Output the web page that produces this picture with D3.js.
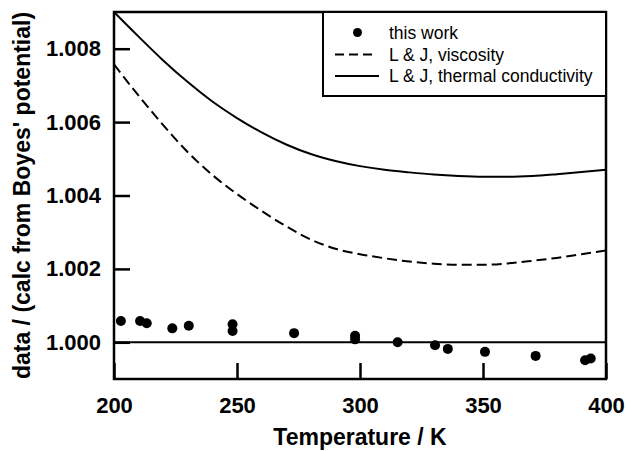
<!DOCTYPE html>
<html>
<head>
<meta charset="utf-8">
<script src="https://cdn.jsdelivr.net/npm/d3@7"></script>
<style>
  html, body { margin: 0; padding: 0; background: #fff; }
  svg { display: block; }
  text { font-family: "Liberation Sans", Arial, sans-serif; fill: #000; }
</style>
</head>
<body>
<div id="chart"></div>
<script>
// ---- data ----
const pointT = [202.8, 210.6, 213.3, 223.7, 230.4, 248.2, 248.2, 273.2, 298.0, 298.0, 315.3, 330.5, 335.7, 350.8, 371.4, 391.5, 393.8];
const pointRatio = [1.00058, 1.00058, 1.00052, 1.00038, 1.00045, 1.00049, 1.00031, 1.00025, 1.00018, 1.00008, 1.00000, 0.99992, 0.99982, 0.99974, 0.99963, 0.99951, 0.99956];

const curveT = [200, 210, 220, 230, 240, 250, 260, 270, 280, 290, 300, 310, 320, 330, 340, 350, 360, 370, 380, 390, 400];
const thermalCond = [1.00900, 1.00833, 1.00768, 1.00709, 1.00656, 1.00611, 1.00572, 1.00539, 1.00513, 1.00494, 1.00480, 1.00470, 1.00463, 1.00457, 1.00453, 1.00451, 1.00451, 1.00453, 1.00458, 1.00464, 1.00470];
const viscosity = [1.00757, 1.00672, 1.00592, 1.00518, 1.00456, 1.00404, 1.00358, 1.00316, 1.00280, 1.00255, 1.00240, 1.00229, 1.00220, 1.00214, 1.00211, 1.00211, 1.00215, 1.00222, 1.00230, 1.00240, 1.00250];

const xTicks = [200, 250, 300, 350, 400];
const yTicks = [1.000, 1.002, 1.004, 1.006, 1.008];
const legendLabels = ["this work", "L & J, viscosity", "L & J, thermal conductivity"];
const xTitle = "Temperature / K";
const yTitle = "data / (calc from Boyes' potential)";

// ---- layout ----
const W = 626, H = 451;
const m = { left: 114, right: 606, top: 12, bottom: 379 };

const svg = d3.select("#chart").append("svg").attr("width", W).attr("height", H);

const x = d3.scaleLinear().domain([200, 400]).range([m.left, m.right]);
const y = d3.scaleLinear().domain([0.999, 1.009]).range([m.bottom, m.top]);

// clip
svg.append("clipPath").attr("id", "clip").append("rect")
  .attr("x", m.left).attr("y", m.top).attr("width", m.right - m.left).attr("height", m.bottom - m.top);

const plot = svg.append("g").attr("clip-path", "url(#clip)");

// 1.000 reference line
plot.append("line")
  .attr("x1", m.left).attr("x2", m.right)
  .attr("y1", y(1.000)).attr("y2", y(1.000))
  .attr("stroke", "#000").attr("stroke-width", 2);

const line = (vals) => d3.line()
  .x((d, i) => x(curveT[i]))
  .y(d => y(d))
  .curve(d3.curveMonotoneX)(vals);

plot.append("path").attr("d", line(thermalCond))
  .attr("fill", "none").attr("stroke", "#000").attr("stroke-width", 2);
plot.append("path").attr("d", line(viscosity))
  .attr("fill", "none").attr("stroke", "#000").attr("stroke-width", 2)
  .attr("stroke-dasharray", "10,5");

plot.selectAll("circle.pt").data(pointT).enter().append("circle")
  .attr("class", "pt")
  .attr("cx", d => x(d))
  .attr("cy", (d, i) => y(pointRatio[i]))
  .attr("r", 5).attr("fill", "#000");

// axes (inward ticks)
const xAxis = svg.append("g").attr("transform", `translate(0,${m.bottom})`)
  .call(d3.axisBottom(x).tickValues(xTicks).tickSize(-16).tickPadding(20).tickFormat(d3.format("d")));
const yAxis = svg.append("g").attr("transform", `translate(${m.left},0)`)
  .call(d3.axisLeft(y).tickValues(yTicks).tickSize(-16).tickPadding(13).tickFormat(d3.format(".3f")));

[xAxis, yAxis].forEach(a => {
  a.select(".domain").remove();
  a.selectAll(".tick line").attr("stroke", "#000").attr("stroke-width", 2.5);
  a.selectAll(".tick text").attr("font-size", 22).attr("font-weight", "bold")
    .attr("font-family", "'Liberation Sans', Arial, sans-serif").attr("fill", "#000");
});
xAxis.selectAll(".tick text").attr("dy", null).attr("y", 34);

// frame
svg.append("rect")
  .attr("x", m.left).attr("y", m.top).attr("width", m.right - m.left).attr("height", m.bottom - m.top)
  .attr("fill", "none").attr("stroke", "#000").attr("stroke-width", 2.5);

// axis titles
svg.append("text")
  .attr("x", (m.left + m.right) / 2).attr("y", 445)
  .attr("text-anchor", "middle").attr("font-size", 23).attr("font-weight", "bold")
  .text(xTitle);
svg.append("text")
  .attr("transform", `translate(30,${(m.top + m.bottom) / 2}) rotate(-90)`)
  .attr("text-anchor", "middle").attr("font-size", 23).attr("font-weight", "bold")
  .text(yTitle);

// legend
const lg = svg.append("g");
lg.append("rect").attr("x", 323).attr("y", m.top).attr("width", m.right - 323).attr("height", 84)
  .attr("fill", "#fff").attr("stroke", "#000").attr("stroke-width", 2);
const rowsY = [32.5, 54.5, 76];
lg.append("circle").attr("cx", 357.5).attr("cy", rowsY[0]).attr("r", 4.5).attr("fill", "#000");
lg.append("line").attr("x1", 335).attr("x2", 375).attr("y1", rowsY[1]).attr("y2", rowsY[1])
  .attr("stroke", "#000").attr("stroke-width", 2).attr("stroke-dasharray", "9,5");
lg.append("line").attr("x1", 335).attr("x2", 379).attr("y1", rowsY[2]).attr("y2", rowsY[2])
  .attr("stroke", "#000").attr("stroke-width", 2);
lg.selectAll("text.lg").data(legendLabels).enter().append("text")
  .attr("class", "lg")
  .attr("x", 389).attr("y", (d, i) => rowsY[i])
  .attr("dy", "0.35em").attr("font-size", 17.5)
  .text(d => d);
</script>
</body>
</html>
